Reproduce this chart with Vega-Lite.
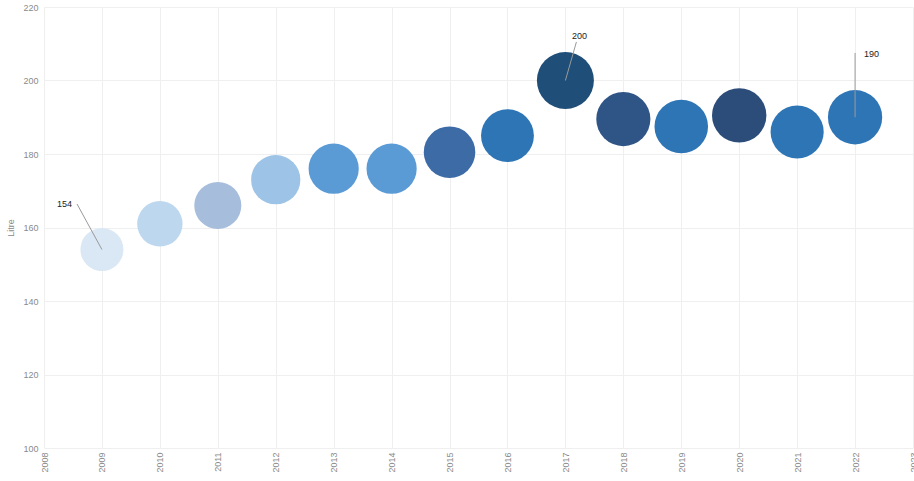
{
  "$schema": "https://vega.github.io/schema/vega-lite/v6.json",
  "autosize": "none",
  "width": 869,
  "height": 441,
  "padding": {"left": 44, "top": 7, "right": 1, "bottom": 33},
  "background": "white",
  "config": {
    "view": {"stroke": null},
    "font": "Liberation Sans",
    "axis": {
      "labelFont": "Liberation Sans",
      "titleFont": "Liberation Sans",
      "labelColor": "#8a8a8a",
      "titleColor": "#8a8a8a",
      "labelFontSize": 9,
      "titleFontSize": 9,
      "titleFontWeight": "normal",
      "gridColor": "#efefef",
      "gridWidth": 1,
      "domain": false,
      "ticks": false
    }
  },
  "datasets": {
    "main": [
      {"Year": 2009, "Litre": 154},
      {"Year": 2010, "Litre": 161},
      {"Year": 2011, "Litre": 166},
      {"Year": 2012, "Litre": 173},
      {"Year": 2013, "Litre": 176},
      {"Year": 2014, "Litre": 176},
      {"Year": 2015, "Litre": 180.5},
      {"Year": 2016, "Litre": 185},
      {"Year": 2017, "Litre": 200},
      {"Year": 2018, "Litre": 189.5},
      {"Year": 2019, "Litre": 187.5},
      {"Year": 2020, "Litre": 190.5},
      {"Year": 2021, "Litre": 186},
      {"Year": 2022, "Litre": 190}
    ],
    "notes": [
      {"Year": 2009, "Litre": 154, "labelYear": 2008.57, "labelLitre": 166.4, "label": "154", "pos": "left"},
      {"Year": 2017, "Litre": 200, "labelYear": 2017.19, "labelLitre": 210.5, "label": "200", "pos": "top"},
      {"Year": 2022, "Litre": 190, "labelYear": 2022, "labelLitre": 207.5, "label": "190", "pos": "right"}
    ]
  },
  "layer": [
    {
      "data": {"name": "main"},
      "mark": {"type": "circle", "opacity": 1},
      "encoding": {
        "x": {
          "field": "Year", "type": "quantitative",
          "scale": {"domain": [2008, 2023], "nice": false, "zero": false},
          "axis": {"title": null, "tickCount": 15, "format": "d", "labelAngle": -90, "labelAlign": "right", "labelBaseline": "middle", "labelPadding": 4, "labelFlush": false, "labelOverlap": false}
        },
        "y": {
          "field": "Litre", "type": "quantitative",
          "scale": {"domain": [100, 220], "nice": false, "zero": false},
          "axis": {"title": "Litre", "tickCount": 6, "labelPadding": 6, "titlePadding": 7, "labelFlush": false}
        },
        "size": {
          "field": "Litre", "type": "quantitative",
          "scale": {"domain": [154, 200], "range": [1849, 3249], "zero": false},
          "legend": null
        },
        "color": {
          "field": "Year", "type": "ordinal",
          "scale": {
            "domain": [2009,2010,2011,2012,2013,2014,2015,2016,2017,2018,2019,2020,2021,2022],
            "range": ["#dae7f4", "#bcd7ee", "#a6bddc", "#9dc3e6", "#5b9bd5", "#5b9bd5", "#3d6ba6", "#2e75b6", "#1f4e79", "#2f5486", "#2e75b6", "#2c4d7a", "#2e75b6", "#2e75b6"]
          },
          "legend": null
        }
      }
    },
    {
      "data": {"name": "notes"},
      "mark": {"type": "rule", "color": "#9a9a9a", "strokeWidth": 1},
      "encoding": {
        "x": {"field": "Year", "type": "quantitative", "axis": {"title": null, "tickCount": 15, "format": "d", "labelAngle": -90, "labelAlign": "right", "labelBaseline": "middle", "labelPadding": 4, "labelFlush": false, "labelOverlap": false}},
        "y": {"field": "Litre", "type": "quantitative", "axis": {"title": "Litre", "tickCount": 6, "labelPadding": 6, "titlePadding": 7, "labelFlush": false}},
        "x2": {"field": "labelYear"},
        "y2": {"field": "labelLitre"}
      }
    },
    {
      "data": {"name": "notes"},
      "transform": [{"filter": "datum.pos == 'left'"}],
      "mark": {"type": "text", "align": "right", "baseline": "middle", "dx": -5, "fontSize": 9, "color": "#222"},
      "encoding": {
        "x": {"field": "labelYear", "type": "quantitative", "axis": {"title": null, "tickCount": 15, "format": "d", "labelAngle": -90, "labelAlign": "right", "labelBaseline": "middle", "labelPadding": 4, "labelFlush": false, "labelOverlap": false}},
        "y": {"field": "labelLitre", "type": "quantitative", "axis": {"title": "Litre", "tickCount": 6, "labelPadding": 6, "titlePadding": 7, "labelFlush": false}},
        "text": {"field": "label"}
      }
    },
    {
      "data": {"name": "notes"},
      "transform": [{"filter": "datum.pos == 'top'"}],
      "mark": {"type": "text", "align": "center", "baseline": "bottom", "dx": 3, "dy": -1, "fontSize": 9, "color": "#222"},
      "encoding": {
        "x": {"field": "labelYear", "type": "quantitative", "axis": {"title": null, "tickCount": 15, "format": "d", "labelAngle": -90, "labelAlign": "right", "labelBaseline": "middle", "labelPadding": 4, "labelFlush": false, "labelOverlap": false}},
        "y": {"field": "labelLitre", "type": "quantitative", "axis": {"title": "Litre", "tickCount": 6, "labelPadding": 6, "titlePadding": 7, "labelFlush": false}},
        "text": {"field": "label"}
      }
    },
    {
      "data": {"name": "notes"},
      "transform": [{"filter": "datum.pos == 'right'"}],
      "mark": {"type": "text", "align": "left", "baseline": "middle", "dx": 9, "dy": 1, "fontSize": 9, "color": "#222"},
      "encoding": {
        "x": {"field": "labelYear", "type": "quantitative", "axis": {"title": null, "tickCount": 15, "format": "d", "labelAngle": -90, "labelAlign": "right", "labelBaseline": "middle", "labelPadding": 4, "labelFlush": false, "labelOverlap": false}},
        "y": {"field": "labelLitre", "type": "quantitative", "axis": {"title": "Litre", "tickCount": 6, "labelPadding": 6, "titlePadding": 7, "labelFlush": false}},
        "text": {"field": "label"}
      }
    }
  ]
}
